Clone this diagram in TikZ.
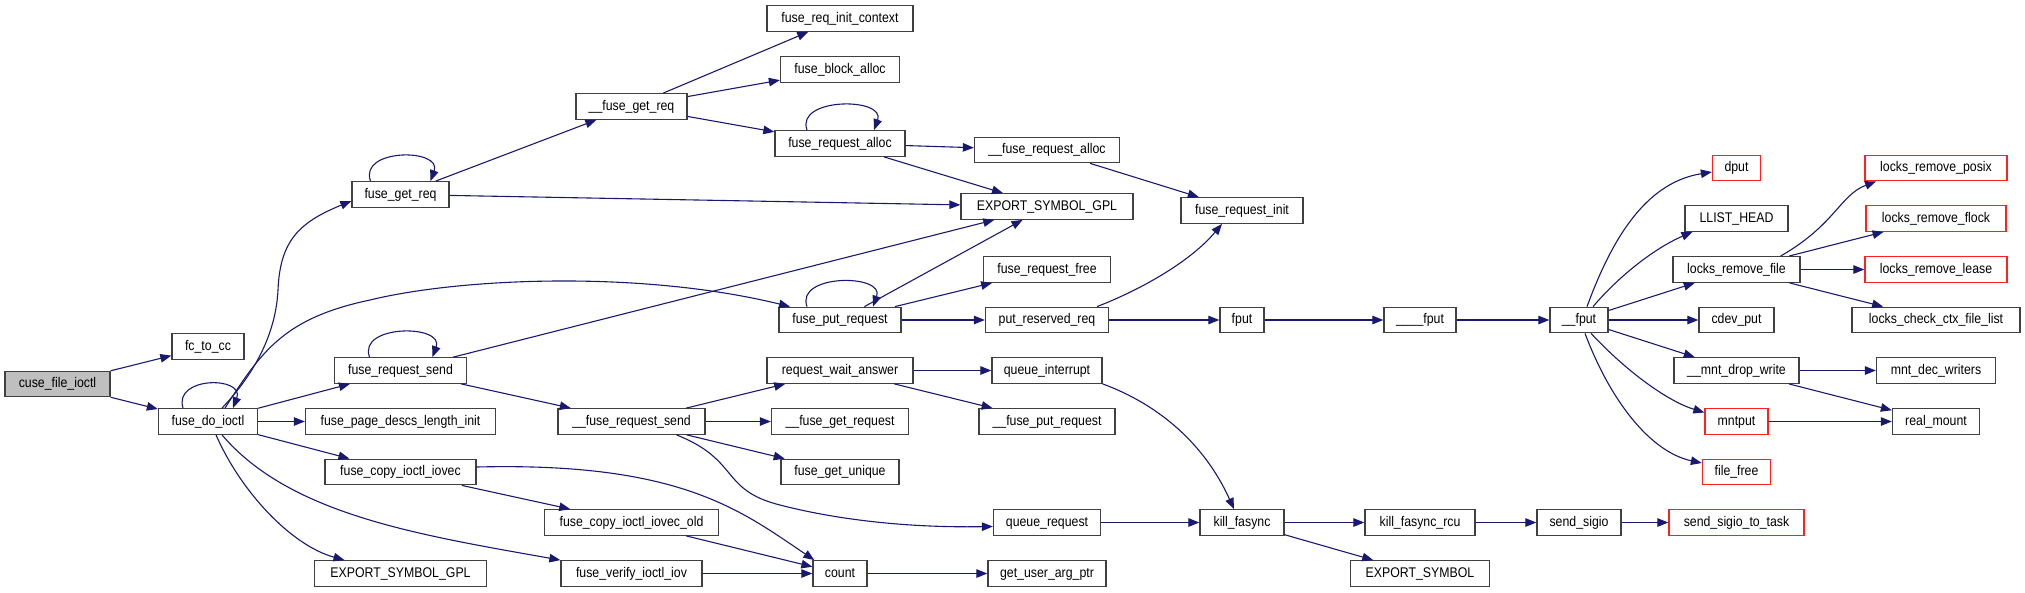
\documentclass[tikz,border=0pt]{standalone}
\usepackage{fontspec}
\setmainfont[FakeStretch=0.88]{Liberation Sans}
\usetikzlibrary{arrows.meta}
\definecolor{edgecol}{HTML}{191970}
\definecolor{boxline}{HTML}{404040}
\definecolor{redline}{HTML}{FF2020}
\definecolor{rootfill}{HTML}{BFBFBF}
\begin{document}
\begin{tikzpicture}[x=1pt,y=-1pt,
  fn/.style={draw=boxline,line width=1.3pt,fill=white,minimum height=25.5pt,inner sep=0pt,
    font=\fontsize{14}{16}\selectfont,text height=10pt,text depth=3pt},
  redfn/.style={fn,draw=redline},
  call/.style={draw=edgecol,line width=1.1pt,-{Triangle[length=11pt,width=8.5pt]}}]
\useasboundingbox (0,0) rectangle (2025,592);
% column 1
\node[fn,fill=rootfill,minimum width=105pt] (cuse) at (57.5,384) {cuse\_file\_ioctl};
% column 2
\node[fn,minimum width=72pt] (fctocc) at (208,346.5) {fc\_to\_cc};
\node[fn,minimum width=99pt] (fdi) at (208,421.5) {fuse\_do\_ioctl};
% column 3
\node[fn,minimum width=97pt] (fgr) at (400.5,194.5) {fuse\_get\_req};
\node[fn,minimum width=132pt] (frs) at (400.5,370.5) {fuse\_request\_send};
\node[fn,minimum width=190pt] (fpdli) at (400.5,421.5) {fuse\_page\_descs\_length\_init};
\node[fn,minimum width=151pt] (fcii) at (400.5,472) {fuse\_copy\_ioctl\_iovec};
\node[fn,minimum width=172pt] (esgb) at (400.5,573.5) {EXPORT\_SYMBOL\_GPL};
% column 4
\node[fn,minimum width=111pt] (fgr2) at (631.5,106.5) {\_\_fuse\_get\_req};
\node[fn,minimum width=147pt] (frs2) at (631.5,421.5) {\_\_fuse\_request\_send};
\node[fn,minimum width=174pt] (fcio) at (631.5,522.5) {fuse\_copy\_ioctl\_iovec\_old};
\node[fn,minimum width=141pt] (fvii) at (631.5,573.5) {fuse\_verify\_ioctl\_iov};
% column 5
\node[fn,minimum width=146pt] (fric) at (840,18.5) {fuse\_req\_init\_context};
\node[fn,minimum width=119pt] (fba) at (840,69.5) {fuse\_block\_alloc};
\node[fn,minimum width=130pt] (fra) at (840,143.5) {fuse\_request\_alloc};
\node[fn,minimum width=122pt] (fpr) at (840,320) {fuse\_put\_request};
\node[fn,minimum width=146pt] (rwa) at (840,370.5) {request\_wait\_answer};
\node[fn,minimum width=137pt] (fgreq) at (840,421.5) {\_\_fuse\_get\_request};
\node[fn,minimum width=118pt] (fgu) at (840,472) {fuse\_get\_unique};
\node[fn,minimum width=54pt] (count) at (840,573.5) {count};
% column 6
\node[fn,minimum width=145pt] (fra2) at (1047,150) {\_\_fuse\_request\_alloc};
\node[fn,minimum width=172pt] (esgt) at (1047,206.5) {EXPORT\_SYMBOL\_GPL};
\node[fn,minimum width=127pt] (frf) at (1047,269.5) {fuse\_request\_free};
\node[fn,minimum width=123pt] (prr) at (1047,320) {put\_reserved\_req};
\node[fn,minimum width=110pt] (qi) at (1047,370.5) {queue\_interrupt};
\node[fn,minimum width=136pt] (fpreq) at (1047,421.5) {\_\_fuse\_put\_request};
\node[fn,minimum width=107pt] (qr) at (1047,522.5) {queue\_request};
\node[fn,minimum width=118pt] (guap) at (1047,573.5) {get\_user\_arg\_ptr};
% column 7
\node[fn,minimum width=122pt] (fri) at (1242,210.5) {fuse\_request\_init};
\node[fn,minimum width=44pt] (fput) at (1242,320) {fput};
\node[fn,minimum width=84pt] (kf) at (1242,522.5) {kill\_fasync};
% column 8
\node[fn,minimum width=72pt] (fput4) at (1420,320) {\_\_\_\_fput};
\node[fn,minimum width=110pt] (kfr) at (1420,522.5) {kill\_fasync\_rcu};
\node[fn,minimum width=139pt] (es) at (1420,573.5) {EXPORT\_SYMBOL};
% column 9
\node[fn,minimum width=58pt] (fput2) at (1579,320) {\_\_fput};
\node[fn,minimum width=84pt] (ss) at (1579,522.5) {send\_sigio};
% column 10
\node[redfn,minimum width=48pt] (dput) at (1736.5,168) {dput};
\node[fn,minimum width=103pt] (llh) at (1736.5,218.5) {LLIST\_HEAD};
\node[fn,minimum width=127pt] (lrf) at (1736.5,269.5) {locks\_remove\_file};
\node[fn,minimum width=75pt] (cdev) at (1736.5,320) {cdev\_put};
\node[fn,minimum width=125pt] (mdw) at (1736.5,370.5) {\_\_mnt\_drop\_write};
\node[redfn,minimum width=63pt] (mnt) at (1736.5,421.5) {mntput};
\node[redfn,minimum width=68pt] (ff) at (1736.5,472) {file\_free};
\node[redfn,minimum width=135pt] (sstt) at (1736.5,522.5) {send\_sigio\_to\_task};
% column 11
\node[redfn,minimum width=142pt] (lrp) at (1936,168) {locks\_remove\_posix};
\node[redfn,minimum width=140pt] (lrfl) at (1936,218.5) {locks\_remove\_flock};
\node[redfn,minimum width=142pt] (lrl) at (1936,269.5) {locks\_remove\_lease};
\node[fn,minimum width=168pt] (lccfl) at (1936,320) {locks\_check\_ctx\_file\_list};
\node[fn,minimum width=119pt] (mdwr) at (1936,370.5) {mnt\_dec\_writers};
\node[fn,minimum width=87pt] (rm) at (1936,421.5) {real\_mount};

% self loops
\draw[call] ([xshift=-25pt]fdi.north) .. controls +(-10pt,32pt) and +(12pt,32pt) .. ([xshift=25pt]fdi.north);
\draw[call] ([xshift=-30pt]fgr.north) .. controls +(-12pt,33pt) and +(12pt,33pt) .. ([xshift=30pt]fgr.north);
\draw[call] ([xshift=-31pt]frs.north) .. controls +(-12pt,33pt) and +(12pt,33pt) .. ([xshift=32pt]frs.north);
\draw[call] ([xshift=-33pt]fra.north) .. controls +(-12pt,33pt) and +(12pt,33pt) .. ([xshift=34pt]fra.north);
\draw[call] ([xshift=-33pt]fpr.north) .. controls +(-12pt,33pt) and +(12pt,33pt) .. ([xshift=33pt]fpr.north);

% straight calls
\foreach \a/\b in {cuse/fctocc,cuse/fdi,fdi/frs,fdi/fpdli,fdi/fcii,
  fgr/fgr2,fgr/esgt,fgr2/fric,fgr2/fba,fgr2/fra,fra/fra2,fra/esgt,fra2/fri,
  frs/esgt,frs/frs2,fpr/esgt,fpr/frf,fpr/prr,prr/fput,fput/fput4,fput4/fput2,
  fput2/lrf,fput2/cdev,fput2/mdw,lrf/lrfl,lrf/lrl,lrf/lccfl,mdw/mdwr,mdw/rm,mnt/rm,
  frs2/rwa,frs2/fgreq,frs2/fgu,rwa/qi,rwa/fpreq,qr/kf,kf/kfr,kf/es,kfr/ss,ss/sstt,
  fcii/fcio,fcio/count,fvii/count,count/guap}
  \draw[call] (\a) -- (\b);

% curved calls
\draw[call] ([xshift=14pt]fdi.north) .. controls (258,370) and (276,330) .. (278,290)
  .. controls (280,240) and (300,222) .. ([yshift=-6.5pt]fgr.west);
\draw[call] ([xshift=17pt]fdi.north) .. controls (262,350) and (285,318) .. (370,300)
  .. controls (460,278) and (640,270) .. ([xshift=-50pt]fpr.north);
\draw[call] ([xshift=8pt]fdi.south) .. controls (240,490) and (290,545) .. ([xshift=-56pt]esgb.north);
\draw[call] ([xshift=14pt]fdi.south) .. controls (290,515) and (420,535) .. (fvii.north west);
\draw[call] ([yshift=5pt]fcii.east) .. controls (680,462) and (740,510) .. ([xshift=2pt]count.north west);
\draw[call] ([xshift=45pt]frs2.south) .. controls (740,460) and (720,490) .. (780,505)
  .. controls (830,518) and (900,528) .. ([yshift=-4pt]qr.west);
\draw[call] (qi.south east) .. controls (1160,405) and (1205,445) .. ([xshift=-8pt]kf.north);
\draw[call] ([xshift=50pt]prr.north) .. controls (1140,290) and (1190,262) .. ([xshift=-20pt]fri.south);
\draw[call] ([xshift=8pt]fput2.north) .. controls (1615,230) and (1650,182) .. ([yshift=-4pt]dput.west);
\draw[call] ([xshift=14pt]fput2.north) .. controls (1620,275) and (1655,248) .. ([xshift=-44pt]llh.south);
\draw[call] ([xshift=12pt]fput2.south) .. controls (1630,375) and (1670,402) .. ([yshift=9pt]mnt.west);
\draw[call] ([xshift=6pt]fput2.south) .. controls (1610,400) and (1650,452) .. ([yshift=9pt]ff.west);
\draw[call] ([xshift=44pt]lrf.north) .. controls (1835,225) and (1840,195) .. ([xshift=-60pt]lrp.south);
\end{tikzpicture}
\end{document}
